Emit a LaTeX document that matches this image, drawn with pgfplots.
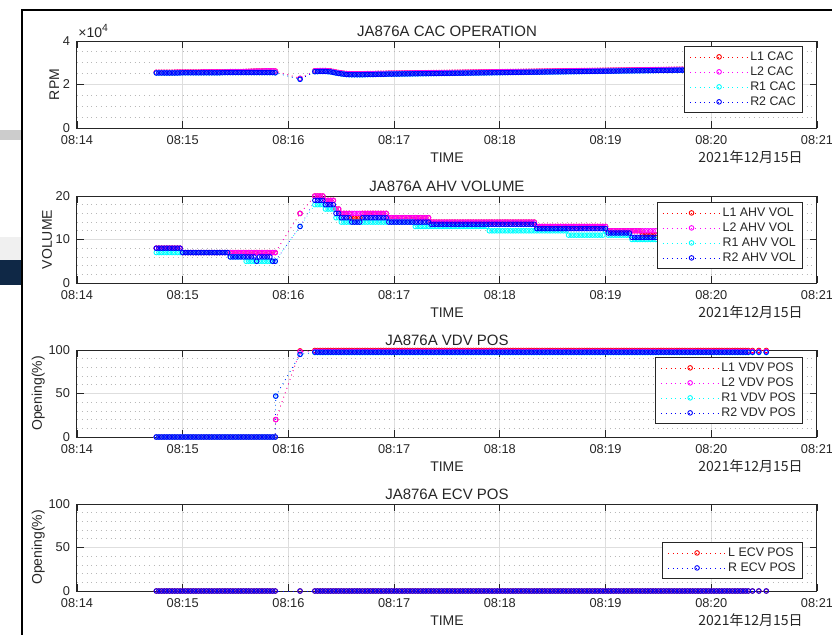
\documentclass[border=0pt]{standalone}
\usepackage{fontspec}
\setmainfont{Liberation Sans}
\newfontfamily\cjk{Noto Sans CJK JP}
\usepackage{pgfplots}
\usepackage{pgfplotstable}
\pgfplotsset{compat=1.18}

\definecolor{txt}{rgb}{0.15,0.15,0.15}
\definecolor{mgrid}{rgb}{0.87,0.87,0.87}
\definecolor{ngrid}{rgb}{0.72,0.72,0.72}
\definecolor{navy}{RGB}{15,40,70}
\definecolor{cR}{RGB}{255,0,0}
\definecolor{cM}{RGB}{255,0,255}
\definecolor{cC}{RGB}{0,255,255}
\definecolor{cB}{RGB}{0,0,255}

% CAC RPM (L = L1/L2, R = R1/R2)
\pgfplotstableread[row sep=\\]{
x L R\\
0.750 25600 25300\\ 0.775 25600 25300\\ 0.800 25600 25300\\ 0.825 25600 25300\\
0.850 25600 25300\\ 0.875 25600 25300\\ 0.900 25600 25300\\ 0.925 25650 25300\\
0.950 25700 25300\\ 0.975 25700 25350\\ 1.000 25700 25400\\ 1.025 25700 25400\\
1.050 25700 25400\\ 1.075 25700 25400\\ 1.100 25700 25400\\ 1.125 25700 25400\\
1.150 25700 25400\\ 1.175 25750 25400\\ 1.200 25800 25400\\ 1.225 25800 25400\\
1.250 25800 25400\\ 1.275 25800 25400\\ 1.300 25800 25400\\ 1.325 25800 25400\\
1.350 25800 25400\\ 1.375 25800 25450\\ 1.400 25800 25500\\ 1.425 25850 25500\\
1.450 25900 25500\\ 1.475 25900 25500\\ 1.500 25900 25500\\ 1.525 25900 25500\\
1.550 25900 25500\\ 1.575 25950 25500\\ 1.600 26000 25500\\ 1.625 26050 25500\\
1.650 26100 25500\\ 1.675 26150 25500\\ 1.700 26200 25500\\ 1.725 26200 25500\\
1.750 26200 25500\\ 1.775 26250 25500\\ 1.800 26300 25500\\ 1.825 26300 25500\\
1.850 26300 25500\\ 1.875 26200 25400\\
2.110 22800 22400\\
2.250 26300 25900\\ 2.275 26350 25950\\ 2.300 26400 26000\\ 2.325 26400 26000\\
2.350 26400 26000\\ 2.375 26300 25900\\ 2.400 26200 25800\\ 2.425 25950 25550\\
2.450 25700 25300\\ 2.475 25500 25100\\ 2.500 25300 24900\\ 2.525 25150 24750\\
2.550 25000 24600\\ 2.575 24950 24550\\ 2.600 24900 24500\\ 2.625 24900 24500\\
2.650 24900 24500\\ 2.675 24900 24500\\ 2.700 24900 24500\\ 2.725 24950 24550\\
2.750 25000 24600\\ 2.775 25000 24600\\ 2.800 25000 24600\\ 2.825 25050 24650\\
2.850 25100 24700\\ 2.875 25100 24700\\ 2.900 25100 24700\\ 2.925 25150 24750\\
2.950 25200 24800\\ 2.975 25200 24800\\ 3.000 25200 24800\\ 3.025 25220 24820\\
3.050 25230 24830\\ 3.075 25250 24850\\ 3.100 25270 24870\\ 3.125 25280 24880\\
3.150 25300 24900\\ 3.175 25320 24920\\ 3.200 25330 24930\\ 3.225 25350 24950\\
3.250 25370 24970\\ 3.275 25380 24980\\ 3.300 25400 25000\\ 3.325 25420 25020\\
3.350 25430 25030\\ 3.375 25450 25050\\ 3.400 25460 25060\\ 3.425 25480 25080\\
3.450 25500 25100\\ 3.475 25510 25110\\ 3.500 25530 25130\\ 3.525 25550 25150\\
3.550 25560 25160\\ 3.575 25580 25180\\ 3.600 25600 25200\\ 3.625 25610 25210\\
3.650 25630 25230\\ 3.675 25650 25250\\ 3.700 25660 25260\\ 3.725 25680 25280\\
3.750 25700 25300\\ 3.775 25710 25310\\ 3.800 25730 25330\\ 3.825 25750 25350\\
3.850 25760 25360\\ 3.875 25780 25380\\ 3.900 25790 25390\\ 3.925 25810 25410\\
3.950 25830 25430\\ 3.975 25840 25440\\ 4.000 25860 25460\\ 4.025 25880 25480\\
4.050 25890 25490\\ 4.075 25910 25510\\ 4.100 25930 25530\\ 4.125 25940 25540\\
4.150 25960 25560\\ 4.175 25970 25570\\ 4.200 25990 25590\\ 4.225 26010 25610\\
4.250 26020 25620\\ 4.275 26040 25640\\ 4.300 26060 25660\\ 4.325 26070 25670\\
4.350 26090 25690\\ 4.375 26110 25710\\ 4.400 26120 25720\\ 4.425 26140 25740\\
4.450 26160 25760\\ 4.475 26170 25770\\ 4.500 26190 25790\\ 4.525 26210 25810\\
4.550 26220 25820\\ 4.575 26240 25840\\ 4.600 26260 25860\\ 4.625 26270 25870\\
4.650 26290 25890\\ 4.675 26310 25910\\ 4.700 26320 25920\\ 4.725 26340 25940\\
4.750 26350 25950\\ 4.775 26370 25970\\ 4.800 26390 25990\\ 4.825 26400 26000\\
4.850 26420 26020\\ 4.875 26440 26040\\ 4.900 26450 26050\\ 4.925 26470 26070\\
4.950 26490 26090\\ 4.975 26500 26100\\ 5.000 26520 26120\\ 5.025 26540 26140\\
5.050 26550 26150\\ 5.075 26570 26170\\ 5.100 26590 26190\\ 5.125 26600 26200\\
5.150 26620 26220\\ 5.175 26640 26240\\ 5.200 26650 26250\\ 5.225 26670 26270\\
5.250 26680 26280\\ 5.275 26700 26300\\ 5.300 26720 26320\\ 5.325 26730 26330\\
5.350 26750 26350\\ 5.375 26770 26370\\ 5.400 26780 26380\\ 5.425 26800 26400\\
5.450 26820 26420\\ 5.475 26830 26430\\ 5.500 26850 26450\\ 5.525 26870 26470\\
5.550 26880 26480\\ 5.575 26900 26500\\ 5.600 26920 26520\\ 5.625 26930 26530\\
5.650 26950 26550\\ 5.675 26970 26570\\ 5.700 26980 26580\\ 5.725 27000 26600\\
5.750 27010 26610\\ 5.775 27030 26630\\ 5.800 27050 26650\\ 5.850 27080 26680\\
5.900 27110 26710\\ 5.950 27150 26750\\ 6.000 27180 26780\\ 6.050 27210 26810\\
6.100 27250 26850\\ 6.150 27280 26880\\ 6.200 27310 26910\\ 6.250 27350 26950\\
6.300 27380 26980\\ 6.350 27410 27010\\ 6.390 27420 27030\\ 6.450 27440 27050\\
6.520 27460 27080\\
}\cac

% AHV volume
\pgfplotstableread[row sep=\\]{
x L1 L2 R1 R2\\
0.750 8 8 7 8\\ 0.775 8 8 7 8\\ 0.800 8 8 7 8\\ 0.825 8 8 7 8\\ 0.850 8 8 7 8\\
0.875 8 8 7 8\\ 0.900 8 8 7 8\\ 0.925 8 8 7 8\\ 0.950 8 8 7 8\\ 0.975 8 8 7 8\\
1.000 7 7 7 7\\ 1.025 7 7 7 7\\ 1.050 7 7 7 7\\ 1.075 7 7 7 7\\ 1.100 7 7 7 7\\
1.125 7 7 7 7\\ 1.150 7 7 7 7\\ 1.175 7 7 7 7\\ 1.200 7 7 7 7\\ 1.225 7 7 7 7\\
1.250 7 7 7 7\\ 1.275 7 7 7 7\\ 1.300 7 7 7 7\\ 1.325 7 7 7 7\\ 1.350 7 7 7 7\\
1.375 7 7 7 7\\ 1.400 7 7 7 7\\ 1.425 7 7 7 7\\
1.450 7 7 6 6\\ 1.475 7 7 6 6\\ 1.500 7 7 6 6\\ 1.525 7 7 6 6\\ 1.550 7 7 6 6\\
1.575 7 7 6 6\\ 1.600 7 7 5 6\\ 1.625 7 7 5 6\\ 1.650 7 7 5 6\\ 1.675 7 7 5 6\\
1.700 7 7 5 5\\ 1.725 7 7 5 6\\ 1.750 7 7 5 6\\ 1.775 7 7 5 6\\ 1.800 7 7 5 6\\
1.825 7 7 5 6\\ 1.850 7 7 5 5\\ 1.875 7 7 5 5\\
2.110 16 16 13 13\\
2.250 20 20 18 19\\ 2.275 20 20 18 19\\ 2.300 20 20 18 19\\ 2.325 20 20 18 19\\
2.350 19 19 17 18\\ 2.375 19 19 17 18\\ 2.400 19 19 17 18\\ 2.425 19 19 17 18\\
2.450 17 17 15 16\\ 2.475 17 17 15 16\\
2.500 16 16 14 15\\ 2.525 16 16 14 15\\ 2.550 16 16 14 15\\ 2.575 16 16 14 15\\
2.600 15 16 14 14\\ 2.625 15 16 14 14\\ 2.650 15 16 14 14\\ 2.675 15 16 14 14\\
2.700 16 16 14 15\\ 2.725 16 16 14 15\\ 2.750 16 16 14 15\\ 2.775 16 16 14 15\\
2.800 16 16 14 15\\ 2.825 16 16 14 15\\ 2.850 16 16 14 15\\ 2.875 16 16 14 15\\
2.900 16 16 14 15\\ 2.925 16 16 14 15\\
2.950 15 15 14 14\\ 2.975 15 15 14 14\\ 3.000 15 15 14 14\\ 3.025 15 15 14 14\\
3.050 15 15 14 14\\ 3.075 15 15 14 14\\ 3.100 15 15 14 14\\ 3.125 15 15 14 14\\
3.150 15 15 14 14\\ 3.175 15 15 14 14\\
3.200 15 15 13 14\\ 3.225 15 15 13 14\\ 3.250 15 15 13 14\\ 3.275 15 15 13 14\\
3.300 15 15 13 14\\ 3.325 15 15 13 14\\
3.350 14 14 13 13.5\\ 3.375 14 14 13 13.5\\ 3.400 14 14 13 13.5\\ 3.425 14 14 13 13.5\\
3.450 14 14 13 13.5\\ 3.475 14 14 13 13.5\\ 3.500 14 14 13 13.5\\ 3.525 14 14 13 13.5\\
3.550 14 14 13 13.5\\ 3.575 14 14 13 13.5\\ 3.600 14 14 13 13.5\\ 3.625 14 14 13 13.5\\
3.650 14 14 13 13.5\\ 3.675 14 14 13 13.5\\ 3.700 14 14 13 13.5\\ 3.725 14 14 13 13.5\\
3.750 14 14 13 13.5\\ 3.775 14 14 13 13.5\\ 3.800 14 14 13 13.5\\ 3.825 14 14 13 13.5\\
3.850 14 14 13 13.5\\ 3.875 14 14 13 13.5\\
3.900 14 14 12 13.5\\ 3.925 14 14 12 13.5\\ 3.950 14 14 12 13.5\\ 3.975 14 14 12 13.5\\
4.000 14 14 12 13.5\\ 4.025 14 14 12 13.5\\ 4.050 14 14 12 13.5\\ 4.075 14 14 12 13.5\\
4.100 14 14 12 13.5\\ 4.125 14 14 12 13.5\\ 4.150 14 14 12 13.5\\ 4.175 14 14 12 13.5\\
4.200 14 14 12 13.5\\ 4.225 14 14 12 13.5\\ 4.250 14 14 12 13.5\\ 4.275 14 14 12 13.5\\
4.300 14 14 12 13.5\\ 4.325 14 14 12 13.5\\
4.350 13 13 12 12.5\\ 4.375 13 13 12 12.5\\ 4.400 13 13 12 12.5\\ 4.425 13 13 12 12.5\\
4.450 13 13 12 12.5\\ 4.475 13 13 12 12.5\\ 4.500 13 13 12 12.5\\ 4.525 13 13 12 12.5\\
4.550 13 13 12 12.5\\ 4.575 13 13 12 12.5\\ 4.600 13 13 12 12.5\\ 4.625 13 13 12 12.5\\
4.650 13 13 11 12.5\\ 4.675 13 13 11 12.5\\ 4.700 13 13 11 12.5\\ 4.725 13 13 11 12.5\\
4.750 13 13 11 12.5\\ 4.775 13 13 11 12.5\\ 4.800 13 13 11 12.5\\ 4.825 13 13 11 12.5\\
4.850 13 13 11 12.5\\ 4.875 13 13 11 12.5\\ 4.900 13 13 11 12.5\\ 4.925 13 13 11 12.5\\
4.950 13 13 11 12.5\\ 4.975 13 13 11 12.5\\ 5.000 13 13 12 12.5\\
5.025 12 12 11 11.5\\ 5.050 12 12 11 11.5\\ 5.075 12 12 11 11.5\\ 5.100 12 12 11 11.5\\
5.125 12 12 11 11.5\\ 5.150 12 12 11 11.5\\ 5.175 12 12 11 11.5\\ 5.200 12 12 11 11.5\\
5.225 12 12 11 11.5\\
5.250 12 12 10 10.5\\ 5.275 12 12 10 10.5\\ 5.300 12 12 10 10.5\\ 5.325 12 12 10 10.5\\
5.350 11 12 10 10.5\\ 5.375 11 12 10 10.5\\ 5.400 11 12 10 10.5\\ 5.425 11 12 10 10.5\\
5.450 11 12 10 10.5\\ 5.475 11 12 10 10.5\\ 5.550 11 12 10 10.5\\ 5.650 11 12 10 10.5\\
5.750 11 12 10 10.5\\ 5.850 11 12 10 10.5\\ 5.950 11 12 10 10.5\\ 6.050 11 12 10 10.5\\
6.150 11 12 10 10.5\\ 6.250 11 12 10 10.5\\ 6.350 11 12 10 10.5\\ 6.390 11 12 10 10.5\\
6.450 11 12 10 10.5\\ 6.520 11 12 10 10.5\\
}\ahv

% VDV position
\pgfplotstableread[row sep=\\]{
x L1 L2 R1 R2\\
0.750 0 0 0 0\\ 0.775 0 0 0 0\\ 0.800 0 0 0 0\\ 0.825 0 0 0 0\\ 0.850 0 0 0 0\\
0.875 0 0 0 0\\ 0.900 0 0 0 0\\ 0.925 0 0 0 0\\ 0.950 0 0 0 0\\ 0.975 0 0 0 0\\
1.000 0 0 0 0\\ 1.025 0 0 0 0\\ 1.050 0 0 0 0\\ 1.075 0 0 0 0\\ 1.100 0 0 0 0\\
1.125 0 0 0 0\\ 1.150 0 0 0 0\\ 1.175 0 0 0 0\\ 1.200 0 0 0 0\\ 1.225 0 0 0 0\\
1.250 0 0 0 0\\ 1.275 0 0 0 0\\ 1.300 0 0 0 0\\ 1.325 0 0 0 0\\ 1.350 0 0 0 0\\
1.375 0 0 0 0\\ 1.400 0 0 0 0\\ 1.425 0 0 0 0\\ 1.450 0 0 0 0\\ 1.475 0 0 0 0\\
1.500 0 0 0 0\\ 1.525 0 0 0 0\\ 1.550 0 0 0 0\\ 1.575 0 0 0 0\\ 1.600 0 0 0 0\\
1.625 0 0 0 0\\ 1.650 0 0 0 0\\ 1.675 0 0 0 0\\ 1.700 0 0 0 0\\ 1.725 0 0 0 0\\
1.750 0 0 0 0\\ 1.775 0 0 0 0\\ 1.800 0 0 0 0\\ 1.825 0 0 0 0\\ 1.850 0 0 0 0\\
1.875 0 0 0 0\\
1.880 20 20 47 47\\ 2.110 99 98 95 95\\
2.250 99.5 98.5 97 97.5\\ 2.275 99.5 98.5 97 97.5\\ 2.300 99.5 98.5 97 97.5\\ 2.325 99.5 98.5 97 97.5\\
2.350 99.5 98.5 97 97.5\\ 2.375 99.5 98.5 97 97.5\\ 2.400 99.5 98.5 97 97.5\\ 2.425 99.5 98.5 97 97.5\\
2.450 99.5 98.5 97 97.5\\ 2.475 99.5 98.5 97 97.5\\ 2.500 99.5 98.5 97 97.5\\ 2.525 99.5 98.5 97 97.5\\
2.550 99.5 98.5 97 97.5\\ 2.575 99.5 98.5 97 97.5\\ 2.600 99.5 98.5 97 97.5\\ 2.625 99.5 98.5 97 97.5\\
2.650 99.5 98.5 97 97.5\\ 2.675 99.5 98.5 97 97.5\\ 2.700 99.5 98.5 97 97.5\\ 2.725 99.5 98.5 97 97.5\\
2.750 99.5 98.5 97 97.5\\ 2.775 99.5 98.5 97 97.5\\ 2.800 99.5 98.5 97 97.5\\ 2.825 99.5 98.5 97 97.5\\
2.850 99.5 98.5 97 97.5\\ 2.875 99.5 98.5 97 97.5\\ 2.900 99.5 98.5 97 97.5\\ 2.925 99.5 98.5 97 97.5\\
2.950 99.5 98.5 97 97.5\\ 2.975 99.5 98.5 97 97.5\\ 3.000 99.5 98.5 97 97.5\\ 3.025 99.5 98.5 97 97.5\\
3.050 99.5 98.5 97 97.5\\ 3.075 99.5 98.5 97 97.5\\ 3.100 99.5 98.5 97 97.5\\ 3.125 99.5 98.5 97 97.5\\
3.150 99.5 98.5 97 97.5\\ 3.175 99.5 98.5 97 97.5\\ 3.200 99.5 98.5 97 97.5\\ 3.225 99.5 98.5 97 97.5\\
3.250 99.5 98.5 97 97.5\\ 3.275 99.5 98.5 97 97.5\\ 3.300 99.5 98.5 97 97.5\\ 3.325 99.5 98.5 97 97.5\\
3.350 99.5 98.5 97 97.5\\ 3.375 99.5 98.5 97 97.5\\ 3.400 99.5 98.5 97 97.5\\ 3.425 99.5 98.5 97 97.5\\
3.450 99.5 98.5 97 97.5\\ 3.475 99.5 98.5 97 97.5\\ 3.500 99.5 98.5 97 97.5\\ 3.525 99.5 98.5 97 97.5\\
3.550 99.5 98.5 97 97.5\\ 3.575 99.5 98.5 97 97.5\\ 3.600 99.5 98.5 97 97.5\\ 3.625 99.5 98.5 97 97.5\\
3.650 99.5 98.5 97 97.5\\ 3.675 99.5 98.5 97 97.5\\ 3.700 99.5 98.5 97 97.5\\ 3.725 99.5 98.5 97 97.5\\
3.750 99.5 98.5 97 97.5\\ 3.775 99.5 98.5 97 97.5\\ 3.800 99.5 98.5 97 97.5\\ 3.825 99.5 98.5 97 97.5\\
3.850 99.5 98.5 97 97.5\\ 3.875 99.5 98.5 97 97.5\\ 3.900 99.5 98.5 97 97.5\\ 3.925 99.5 98.5 97 97.5\\
3.950 99.5 98.5 97 97.5\\ 3.975 99.5 98.5 97 97.5\\ 4.000 99.5 98.5 97 97.5\\ 4.025 99.5 98.5 97 97.5\\
4.050 99.5 98.5 97 97.5\\ 4.075 99.5 98.5 97 97.5\\ 4.100 99.5 98.5 97 97.5\\ 4.125 99.5 98.5 97 97.5\\
4.150 99.5 98.5 97 97.5\\ 4.175 99.5 98.5 97 97.5\\ 4.200 99.5 98.5 97 97.5\\ 4.225 99.5 98.5 97 97.5\\
4.250 99.5 98.5 97 97.5\\ 4.275 99.5 98.5 97 97.5\\ 4.300 99.5 98.5 97 97.5\\ 4.325 99.5 98.5 97 97.5\\
4.350 99.5 98.5 97 97.5\\ 4.375 99.5 98.5 97 97.5\\ 4.400 99.5 98.5 97 97.5\\ 4.425 99.5 98.5 97 97.5\\
4.450 99.5 98.5 97 97.5\\ 4.475 99.5 98.5 97 97.5\\ 4.500 99.5 98.5 97 97.5\\ 4.525 99.5 98.5 97 97.5\\
4.550 99.5 98.5 97 97.5\\ 4.575 99.5 98.5 97 97.5\\ 4.600 99.5 98.5 97 97.5\\ 4.625 99.5 98.5 97 97.5\\
4.650 99.5 98.5 97 97.5\\ 4.675 99.5 98.5 97 97.5\\ 4.700 99.5 98.5 97 97.5\\ 4.725 99.5 98.5 97 97.5\\
4.750 99.5 98.5 97 97.5\\ 4.775 99.5 98.5 97 97.5\\ 4.800 99.5 98.5 97 97.5\\ 4.825 99.5 98.5 97 97.5\\
4.850 99.5 98.5 97 97.5\\ 4.875 99.5 98.5 97 97.5\\ 4.900 99.5 98.5 97 97.5\\ 4.925 99.5 98.5 97 97.5\\
4.950 99.5 98.5 97 97.5\\ 4.975 99.5 98.5 97 97.5\\ 5.000 99.5 98.5 97 97.5\\ 5.025 99.5 98.5 97 97.5\\
5.050 99.5 98.5 97 97.5\\ 5.075 99.5 98.5 97 97.5\\ 5.100 99.5 98.5 97 97.5\\ 5.125 99.5 98.5 97 97.5\\
5.150 99.5 98.5 97 97.5\\ 5.175 99.5 98.5 97 97.5\\ 5.200 99.5 98.5 97 97.5\\ 5.225 99.5 98.5 97 97.5\\
5.250 99.5 98.5 97 97.5\\ 5.275 99.5 98.5 97 97.5\\ 5.300 99.5 98.5 97 97.5\\ 5.325 99.5 98.5 97 97.5\\
5.350 99.5 98.5 97 97.5\\ 5.375 99.5 98.5 97 97.5\\ 5.400 99.5 98.5 97 97.5\\ 5.425 99.5 98.5 97 97.5\\
5.450 99.5 98.5 97 97.5\\ 5.475 99.5 98.5 97 97.5\\ 5.500 99.5 98.5 97 97.5\\ 5.525 99.5 98.5 97 97.5\\
5.550 99.5 98.5 97 97.5\\ 5.575 99.5 98.5 97 97.5\\ 5.600 99.5 98.5 97 97.5\\ 5.625 99.5 98.5 97 97.5\\
5.650 99.5 98.5 97 97.5\\ 5.675 99.5 98.5 97 97.5\\ 5.700 99.5 98.5 97 97.5\\ 5.725 99.5 98.5 97 97.5\\
5.750 99.5 98.5 97 97.5\\ 5.775 99.5 98.5 97 97.5\\ 5.800 99.5 98.5 97 97.5\\ 5.825 99.5 98.5 97 97.5\\
5.850 99.5 98.5 97 97.5\\ 5.875 99.5 98.5 97 97.5\\ 5.900 99.5 98.5 97 97.5\\ 5.925 99.5 98.5 97 97.5\\
5.950 99.5 98.5 97 97.5\\ 5.975 99.5 98.5 97 97.5\\ 6.000 99.5 98.5 97 97.5\\ 6.025 99.5 98.5 97 97.5\\
6.050 99.5 98.5 97 97.5\\ 6.075 99.5 98.5 97 97.5\\ 6.100 99.5 98.5 97 97.5\\ 6.125 99.5 98.5 97 97.5\\
6.150 99.5 98.5 97 97.5\\ 6.175 99.5 98.5 97 97.5\\ 6.200 99.5 98.5 97 97.5\\ 6.225 99.5 98.5 97 97.5\\
6.250 99.5 98.5 97 97.5\\ 6.275 99.5 98.5 97 97.5\\ 6.300 99.5 98.5 97 97.5\\ 6.325 99.5 98.5 97 97.5\\
6.350 99.5 98.5 97 97.5\\ 6.390 99.5 98.5 97 97.5\\ 6.450 99.5 98.5 97 97.5\\ 6.520 99.5 98.5 97 97.5\\
}\vdv

% ECV position
\pgfplotstableread[row sep=\\]{
x L R\\
0.750 0 0\\ 0.775 0 0\\ 0.800 0 0\\ 0.825 0 0\\ 0.850 0 0\\ 0.875 0 0\\ 0.900 0 0\\ 0.925 0 0\\
0.950 0 0\\ 0.975 0 0\\ 1.000 0 0\\ 1.025 0 0\\ 1.050 0 0\\ 1.075 0 0\\ 1.100 0 0\\ 1.125 0 0\\
1.150 0 0\\ 1.175 0 0\\ 1.200 0 0\\ 1.225 0 0\\ 1.250 0 0\\ 1.275 0 0\\ 1.300 0 0\\ 1.325 0 0\\
1.350 0 0\\ 1.375 0 0\\ 1.400 0 0\\ 1.425 0 0\\ 1.450 0 0\\ 1.475 0 0\\ 1.500 0 0\\ 1.525 0 0\\
1.550 0 0\\ 1.575 0 0\\ 1.600 0 0\\ 1.625 0 0\\ 1.650 0 0\\ 1.675 0 0\\ 1.700 0 0\\ 1.725 0 0\\
1.750 0 0\\ 1.775 0 0\\ 1.800 0 0\\ 1.825 0 0\\ 1.850 0 0\\ 1.875 0 0\\
2.110 0 0\\
2.250 0 0\\ 2.275 0 0\\ 2.300 0 0\\ 2.325 0 0\\ 2.350 0 0\\ 2.375 0 0\\ 2.400 0 0\\ 2.425 0 0\\
2.450 0 0\\ 2.475 0 0\\ 2.500 0 0\\ 2.525 0 0\\ 2.550 0 0\\ 2.575 0 0\\ 2.600 0 0\\ 2.625 0 0\\
2.650 0 0\\ 2.675 0 0\\ 2.700 0 0\\ 2.725 0 0\\ 2.750 0 0\\ 2.775 0 0\\ 2.800 0 0\\ 2.825 0 0\\
2.850 0 0\\ 2.875 0 0\\ 2.900 0 0\\ 2.925 0 0\\ 2.950 0 0\\ 2.975 0 0\\ 3.000 0 0\\ 3.025 0 0\\
3.050 0 0\\ 3.075 0 0\\ 3.100 0 0\\ 3.125 0 0\\ 3.150 0 0\\ 3.175 0 0\\ 3.200 0 0\\ 3.225 0 0\\
3.250 0 0\\ 3.275 0 0\\ 3.300 0 0\\ 3.325 0 0\\ 3.350 0 0\\ 3.375 0 0\\ 3.400 0 0\\ 3.425 0 0\\
3.450 0 0\\ 3.475 0 0\\ 3.500 0 0\\ 3.525 0 0\\ 3.550 0 0\\ 3.575 0 0\\ 3.600 0 0\\ 3.625 0 0\\
3.650 0 0\\ 3.675 0 0\\ 3.700 0 0\\ 3.725 0 0\\ 3.750 0 0\\ 3.775 0 0\\ 3.800 0 0\\ 3.825 0 0\\
3.850 0 0\\ 3.875 0 0\\ 3.900 0 0\\ 3.925 0 0\\ 3.950 0 0\\ 3.975 0 0\\ 4.000 0 0\\ 4.025 0 0\\
4.050 0 0\\ 4.075 0 0\\ 4.100 0 0\\ 4.125 0 0\\ 4.150 0 0\\ 4.175 0 0\\ 4.200 0 0\\ 4.225 0 0\\
4.250 0 0\\ 4.275 0 0\\ 4.300 0 0\\ 4.325 0 0\\ 4.350 0 0\\ 4.375 0 0\\ 4.400 0 0\\ 4.425 0 0\\
4.450 0 0\\ 4.475 0 0\\ 4.500 0 0\\ 4.525 0 0\\ 4.550 0 0\\ 4.575 0 0\\ 4.600 0 0\\ 4.625 0 0\\
4.650 0 0\\ 4.675 0 0\\ 4.700 0 0\\ 4.725 0 0\\ 4.750 0 0\\ 4.775 0 0\\ 4.800 0 0\\ 4.825 0 0\\
4.850 0 0\\ 4.875 0 0\\ 4.900 0 0\\ 4.925 0 0\\ 4.950 0 0\\ 4.975 0 0\\ 5.000 0 0\\ 5.025 0 0\\
5.050 0 0\\ 5.075 0 0\\ 5.100 0 0\\ 5.125 0 0\\ 5.150 0 0\\ 5.175 0 0\\ 5.200 0 0\\ 5.225 0 0\\
5.250 0 0\\ 5.275 0 0\\ 5.300 0 0\\ 5.325 0 0\\ 5.350 0 0\\ 5.375 0 0\\ 5.400 0 0\\ 5.425 0 0\\
5.450 0 0\\ 5.475 0 0\\ 5.500 0 0\\ 5.525 0 0\\ 5.550 0 0\\ 5.575 0 0\\ 5.600 0 0\\ 5.625 0 0\\
5.650 0 0\\ 5.675 0 0\\ 5.700 0 0\\ 5.725 0 0\\ 5.750 0 0\\ 5.775 0 0\\ 5.800 0 0\\ 5.825 0 0\\
5.850 0 0\\ 5.875 0 0\\ 5.900 0 0\\ 5.925 0 0\\ 5.950 0 0\\ 5.975 0 0\\ 6.000 0 0\\ 6.025 0 0\\
6.050 0 0\\ 6.075 0 0\\ 6.100 0 0\\ 6.125 0 0\\ 6.150 0 0\\ 6.175 0 0\\ 6.200 0 0\\ 6.225 0 0\\
6.250 0 0\\ 6.275 0 0\\ 6.300 0 0\\ 6.325 0 0\\ 6.350 0 0\\ 6.390 0 0\\ 6.450 0 0\\ 6.520 0 0\\
}\ecv

\pgfplotsset{
  ser/.style={color=#1, dotted, line width=0.35pt, mark=o, mark size=1.15pt,
    mark options={solid, line width=0.45pt}},
  mlab/.style={
    scale only axis, width=370pt, height=43.5pt, anchor=south west,
    xmin=0, xmax=7, xtick={0,...,7},
    xticklabels={08:14,08:15,08:16,08:17,08:18,08:19,08:20,08:21},
    scaled y ticks=false,
    tick align=inside, major tick length=3.7pt, minor tick length=0pt,
    tick style={txt, line width=0.4pt},
    axis line style={txt, line width=0.5pt},
    xmajorgrids, ymajorgrids, yminorgrids,
    major grid style={mgrid, line width=0.5pt},
    minor grid style={ngrid, dotted, line width=0.4pt},
    tick label style={font=\fontsize{6.4}{7.5}\selectfont, text=txt},
    /pgf/number format/assume math mode=true,
    label style={font=\fontsize{7}{8.4}\selectfont, text=txt},
    title style={font=\fontsize{7.5}{9}\selectfont, text=txt, yshift=-7.5pt},
    ylabel shift=-5pt,
    xlabel={TIME},
    xlabel style={at={(rel axis cs:0.5,0)}, anchor=base, yshift=-17pt},
    legend cell align=left,
    legend style={anchor=north east, draw=txt, line width=0.4pt, fill=white,
      font=\fontsize{6.2}{7}\selectfont, text=txt,
      inner xsep=2.5pt, inner ysep=1.5pt, row sep=0pt,
      nodes={inner sep=0.9pt, text height=4.5pt, text depth=1.2pt},
      /tikz/every even column/.append style={column sep=3.5pt}},
    legend image code/.code={\draw[mark repeat=2,mark phase=2,##1]
      plot coordinates {(0pt,0pt) (14.5pt,0pt) (29pt,0pt)};},
  },
}

\newcommand\datelabel[1]{\node[anchor=base east, font=\cjk\fontsize{7}{8.4}\selectfont, text=txt, inner sep=0pt]
  at (401.5pt,#1) {2021年12月15日};}

\begin{document}
\begin{tikzpicture}
\useasboundingbox (0,0) rectangle (416pt,-317pt);
\fill[white] (0,0) rectangle (416pt,-317pt);
% window behind the figure
\fill[black!20] (0,-65pt) rectangle (11pt,-70pt);
\fill[black!6] (0,-118.5pt) rectangle (11pt,-130pt);
\fill[navy] (0,-130pt) rectangle (11pt,-142.5pt);
\draw[black, line width=1.2pt] (11pt,-318pt) -- (11pt,-5pt) -- (417pt,-5pt);

\begin{axis}[mlab, at={(38.5pt,-64pt)},
  title={JA876A CAC OPERATION}, ylabel={RPM},
  ymin=0, ymax=40000, ytick={0,20000,40000}, yticklabels={0,2,4},
  minor y tick num=3,
  legend style={at={(0.981,0.943)}}]
\addplot[ser=cR] table[x=x,y=L] {\cac};
\addplot[ser=cM] table[x=x,y=L] {\cac};
\addplot[ser=cC] table[x=x,y=R] {\cac};
\addplot[ser=cB] table[x=x,y=R] {\cac};
\legend{L1 CAC,L2 CAC,R1 CAC,R2 CAC}
\end{axis}
\node[anchor=base west, text=txt, inner sep=0pt, font=\fontsize{7}{8}\selectfont]
  at (39pt,-18.7pt) {×10\raisebox{2.8pt}{\fontsize{5.2}{6}\selectfont 4}};
\datelabel{-81pt}

\begin{axis}[mlab, at={(38.5pt,-141.5pt)},
  title={JA876A AHV VOLUME}, ylabel={VOLUME},
  ymin=0, ymax=20, ytick={0,10,20}, minor y tick num=4,
  legend style={at={(0.981,0.931)}}]
\addplot[ser=cR] table[x=x,y=L1] {\ahv};
\addplot[ser=cM] table[x=x,y=L2] {\ahv};
\addplot[ser=cC] table[x=x,y=R1] {\ahv};
\addplot[ser=cB] table[x=x,y=R2] {\ahv};
\legend{L1 AHV VOL,L2 AHV VOL,R1 AHV VOL,R2 AHV VOL}
\end{axis}
\datelabel{-158.5pt}

\begin{axis}[mlab, at={(38.5pt,-218.5pt)},
  title={JA876A VDV POS}, ylabel={Opening(\%)},
  ymin=0, ymax=100, ytick={0,50,100}, minor y tick num=4,
  legend style={at={(0.981,0.92)}}]
\addplot[ser=cR] table[x=x,y=L1] {\vdv};
\addplot[ser=cM] table[x=x,y=L2] {\vdv};
\addplot[ser=cC] table[x=x,y=R1] {\vdv};
\addplot[ser=cB] table[x=x,y=R2] {\vdv};
\legend{L1 VDV POS,L2 VDV POS,R1 VDV POS,R2 VDV POS}
\end{axis}
\datelabel{-235.5pt}

\begin{axis}[mlab, at={(38.5pt,-295.5pt)},
  title={JA876A ECV POS}, ylabel={Opening(\%)},
  ymin=0, ymax=100, ytick={0,50,100}, minor y tick num=4,
  legend style={at={(0.981,0.563)}}]
\addplot[ser=cR] table[x=x,y=L] {\ecv};
\addplot[ser=cB] table[x=x,y=R] {\ecv};
\legend{L ECV POS,R ECV POS}
\end{axis}
\datelabel{-312.5pt}
\end{tikzpicture}
\end{document}
